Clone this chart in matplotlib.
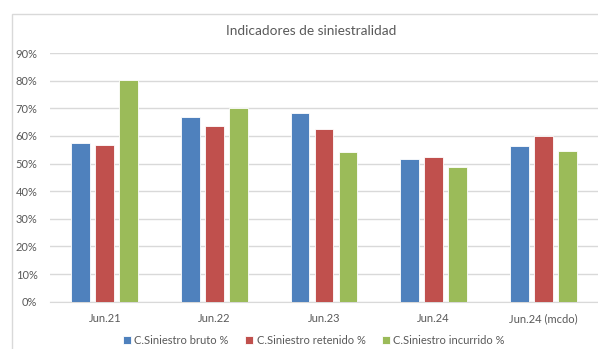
import numpy as np
import matplotlib
matplotlib.use('Agg')
import matplotlib.pyplot as plt
from matplotlib.patches import Rectangle
from matplotlib.ticker import PercentFormatter

plt.rcParams['font.family'] = ['Lato', 'DejaVu Sans']

categorias = ['Jun.21', 'Jun.22', 'Jun.23', 'Jun.24', 'Jun.24 (mcdo)']
bruto = [57.4, 66.7, 68.2, 51.5, 56.5]
retenido = [56.8, 63.7, 62.4, 52.5, 60.0]
incurrido = [80.1, 70.0, 54.3, 48.6, 54.7]
series = ['C.Siniestro bruto %', 'C.Siniestro retenido %', 'C.Siniestro incurrido %']
colores = ['#4F81BD', '#C0504D', '#9BBB59']
texto = '#595959'
rejilla = '#D9D9D9'

fig = plt.figure(figsize=(5.98, 3.49), dpi=100)
# marco del grafico (solo se ven borde izquierdo y superior)
fig.patches.append(Rectangle((12/598, -0.2), 1.2, 1.2 + (349-14)/349 - 1.0,
                             transform=fig.transFigure, fill=False,
                             edgecolor=rejilla, linewidth=1))

ax = fig.add_axes([50/598, 1-301.7/349, 1-50/598, (301.7-53)/349])
x = np.arange(len(categorias))
ancho = 0.173
paso = 0.219
for i, (vals, nombre) in enumerate(zip([bruto, retenido, incurrido], series)):
    ax.bar(x + (i-1)*paso, vals, ancho, color=colores[i], label=nombre,
           edgecolor='white', linewidth=0.6, zorder=3)

ax.set_xlim(-0.5, len(categorias)-0.5)
ax.set_ylim(0, 90)
ax.set_yticks(range(0, 91, 10))
ax.yaxis.set_major_formatter(PercentFormatter(decimals=0))
ax.set_xticks(x)
ax.set_xticklabels(categorias)
ax.grid(axis='y', color=rejilla, linewidth=1, zorder=0)
for s in ['top', 'right', 'left']:
    ax.spines[s].set_visible(False)
ax.spines['bottom'].set_color(rejilla)
ax.tick_params(axis='both', length=0, colors=texto, labelsize=8)
ax.tick_params(axis='y', pad=9)
ax.tick_params(axis='x', pad=8)

fig.text(311/598, 1-31/349, 'Indicadores de siniestralidad', ha='center',
         va='center', fontsize=9.8, color=texto)

fig.legend(loc='center', bbox_to_anchor=(314/598, 1-340/349), ncol=3,
           frameon=False, fontsize=8, labelcolor=texto, handlelength=0.7,
           handleheight=0.7, handletextpad=0.3, columnspacing=1.5)

plt.savefig('out.png', dpi=100)
